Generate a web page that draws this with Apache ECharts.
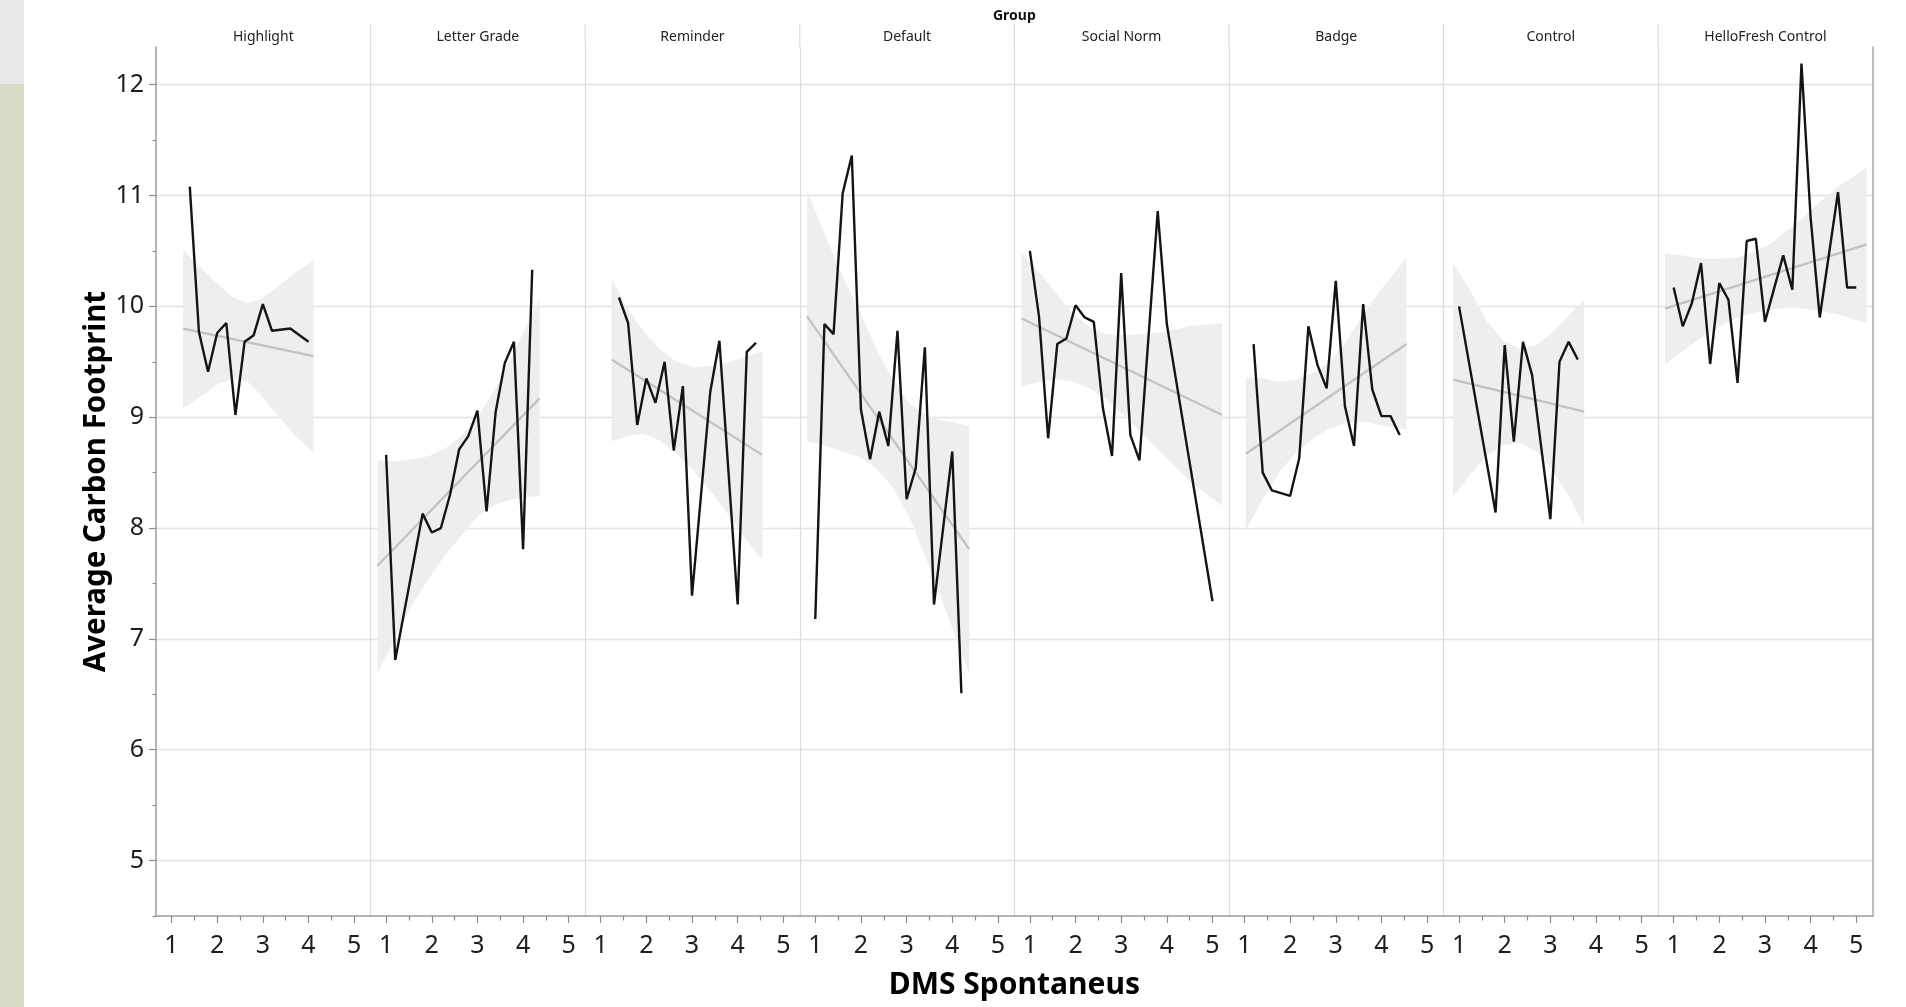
<!DOCTYPE html>
<html>
<head>
<meta charset="utf-8">
<script src="https://cdn.jsdelivr.net/npm/echarts@6/dist/echarts.min.js"></script>
<style>
  html, body { margin: 0; padding: 0; background: #ffffff; }
  #chart { width: 1906px; height: 1007px; }
</style>
</head>
<body>
<div id="chart"></div>
<script>
// Facet groups (one panel each, left to right)
const groups = ['Highlight', 'Letter Grade', 'Reminder', 'Default', 'Social Norm', 'Badge', 'Control', 'HelloFresh Control'];

// Axis ticks
const dmsTicks = [1, 2, 3, 4, 5];
const dmsMinorTicks = [1.5, 2.5, 3.5, 4.5];
const carbonTicks = [5, 6, 7, 8, 9, 10, 11, 12];
const carbonMinorTicks = [4.5, 5.5, 6.5, 7.5, 8.5, 9.5, 10.5, 11.5];

// Mean carbon footprint per DMS Spontaneus score: [dms, carbon]
const highlightPoints = [[1.4, 11.08], [1.6, 9.77], [1.8, 9.41], [2.0, 9.76], [2.2, 9.85], [2.4, 9.02], [2.6, 9.68], [2.8, 9.74], [3.0, 10.02], [3.2, 9.78], [3.6, 9.80], [4.0, 9.68]];
const letterGradePoints = [[1.0, 8.66], [1.2, 6.81], [1.8, 8.13], [2.0, 7.96], [2.2, 8.00], [2.4, 8.30], [2.6, 8.71], [2.8, 8.83], [3.0, 9.06], [3.2, 8.15], [3.4, 9.05], [3.6, 9.49], [3.8, 9.68], [4.0, 7.81], [4.2, 10.33]];
const reminderPoints = [[1.4, 10.08], [1.6, 9.85], [1.8, 8.93], [2.0, 9.35], [2.2, 9.13], [2.4, 9.50], [2.6, 8.70], [2.8, 9.28], [3.0, 7.39], [3.4, 9.23], [3.6, 9.69], [4.0, 7.31], [4.2, 9.59], [4.4, 9.67]];
const defaultPoints = [[1.0, 7.18], [1.2, 9.84], [1.4, 9.75], [1.6, 11.02], [1.8, 11.36], [2.0, 9.07], [2.2, 8.62], [2.4, 9.05], [2.6, 8.74], [2.8, 9.78], [3.0, 8.26], [3.2, 8.54], [3.4, 9.63], [3.6, 7.31], [4.0, 8.69], [4.2, 6.51]];
const socialNormPoints = [[1.0, 10.50], [1.2, 9.91], [1.4, 8.81], [1.6, 9.66], [1.8, 9.71], [2.0, 10.01], [2.2, 9.90], [2.4, 9.86], [2.6, 9.08], [2.8, 8.65], [3.0, 10.30], [3.2, 8.84], [3.4, 8.61], [3.8, 10.86], [4.0, 9.84], [5.0, 7.34]];
const badgePoints = [[1.2, 9.66], [1.4, 8.50], [1.6, 8.34], [2.0, 8.29], [2.2, 8.63], [2.4, 9.82], [2.6, 9.47], [2.8, 9.26], [3.0, 10.23], [3.2, 9.10], [3.4, 8.74], [3.6, 10.02], [3.8, 9.25], [4.0, 9.01], [4.2, 9.01], [4.4, 8.84]];
const controlPoints = [[1.0, 10.00], [1.8, 8.14], [2.0, 9.65], [2.2, 8.78], [2.4, 9.68], [2.6, 9.38], [3.0, 8.08], [3.2, 9.50], [3.4, 9.68], [3.6, 9.52]];
const helloFreshPoints = [[1.0, 10.17], [1.2, 9.82], [1.4, 10.03], [1.6, 10.39], [1.8, 9.48], [2.0, 10.21], [2.2, 10.06], [2.4, 9.31], [2.6, 10.59], [2.8, 10.61], [3.0, 9.86], [3.4, 10.46], [3.6, 10.15], [3.8, 12.19], [4.0, 10.80], [4.2, 9.90], [4.6, 11.03], [4.8, 10.17], [5.0, 10.17]];

// Linear fit end points: [dms, carbon]
const highlightFit = [[1.25, 9.80], [4.11, 9.55]];
const letterGradeFit = [[0.81, 7.66], [4.36, 9.17]];
const reminderFit = [[1.24, 9.52], [4.54, 8.66]];
const defaultFit = [[0.82, 9.91], [4.37, 7.81]];
const socialNormFit = [[0.82, 9.89], [5.21, 9.02]];
const badgeFit = [[1.03, 8.67], [4.55, 9.66]];
const controlFit = [[0.87, 9.34], [3.74, 9.05]];
const helloFreshFit = [[0.81, 9.98], [5.23, 10.56]];

// Confidence band of the fit: dms positions, upper and lower carbon bounds
const highlightBandX = [1.25, 1.62, 1.99, 2.35, 2.65, 2.94, 3.30, 3.67, 4.11];
const highlightBandHi = [10.51, 10.36, 10.21, 10.08, 10.03, 10.06, 10.17, 10.29, 10.42];
const highlightBandLo = [9.08, 9.18, 9.29, 9.35, 9.33, 9.21, 9.03, 8.85, 8.68];

const letterGradeBandX = [0.81, 1.21, 1.57, 1.94, 2.30, 2.67, 3.03, 3.40, 3.76, 4.13, 4.36];
const letterGradeBandHi = [8.61, 8.60, 8.62, 8.65, 8.72, 8.84, 9.02, 9.26, 9.56, 9.87, 10.07];
const letterGradeBandLo = [6.69, 7.01, 7.31, 7.55, 7.76, 7.94, 8.12, 8.21, 8.26, 8.28, 8.29];

const reminderBandX = [1.24, 1.57, 1.93, 2.30, 2.66, 3.03, 3.39, 3.76, 4.12, 4.54];
const reminderBandHi = [10.25, 9.99, 9.78, 9.61, 9.50, 9.45, 9.46, 9.49, 9.54, 9.59];
const reminderBandLo = [8.78, 8.83, 8.85, 8.79, 8.67, 8.52, 8.34, 8.14, 7.93, 7.71];

const defaultBandX = [0.82, 1.25, 1.61, 1.98, 2.34, 2.71, 3.07, 3.44, 3.80, 4.37];
const defaultBandHi = [11.04, 10.61, 10.26, 9.95, 9.61, 9.33, 9.12, 9.02, 8.97, 8.92];
const defaultBandLo = [8.78, 8.74, 8.69, 8.64, 8.54, 8.36, 8.09, 7.71, 7.32, 6.69];

const socialNormBandX = [0.82, 1.22, 1.59, 1.95, 2.32, 2.68, 3.05, 3.41, 3.78, 4.14, 4.51, 5.21];
const socialNormBandHi = [10.48, 10.30, 10.11, 9.93, 9.81, 9.75, 9.74, 9.75, 9.76, 9.79, 9.82, 9.85];
const socialNormBandLo = [9.28, 9.32, 9.34, 9.32, 9.26, 9.16, 9.02, 8.87, 8.72, 8.57, 8.42, 8.20];

const badgeBandX = [1.03, 1.41, 1.78, 2.14, 2.51, 2.87, 3.24, 3.60, 3.97, 4.55];
const badgeBandHi = [9.36, 9.35, 9.32, 9.34, 9.40, 9.50, 9.69, 9.93, 10.14, 10.44];
const badgeBandLo = [7.98, 8.27, 8.51, 8.69, 8.81, 8.90, 8.95, 8.96, 8.93, 8.89];

const controlBandX = [0.87, 1.24, 1.60, 1.97, 2.33, 2.70, 3.06, 3.43, 3.74];
const controlBandHi = [10.39, 10.15, 9.87, 9.69, 9.62, 9.65, 9.77, 9.93, 10.06];
const controlBandLo = [8.28, 8.48, 8.65, 8.75, 8.77, 8.69, 8.51, 8.27, 8.02];

const helloFreshBandX = [0.81, 1.21, 1.65, 2.01, 2.38, 2.74, 3.11, 3.47, 3.84, 4.20, 4.57, 5.23];
const helloFreshBandHi = [10.48, 10.46, 10.43, 10.43, 10.44, 10.49, 10.56, 10.68, 10.80, 10.94, 11.07, 11.25];
const helloFreshBandLo = [9.48, 9.60, 9.73, 9.82, 9.90, 9.94, 9.97, 9.99, 9.98, 9.96, 9.93, 9.85];

const panels = [
  { points: highlightPoints, fit: highlightFit, bandX: highlightBandX, bandHi: highlightBandHi, bandLo: highlightBandLo },
  { points: letterGradePoints, fit: letterGradeFit, bandX: letterGradeBandX, bandHi: letterGradeBandHi, bandLo: letterGradeBandLo },
  { points: reminderPoints, fit: reminderFit, bandX: reminderBandX, bandHi: reminderBandHi, bandLo: reminderBandLo },
  { points: defaultPoints, fit: defaultFit, bandX: defaultBandX, bandHi: defaultBandHi, bandLo: defaultBandLo },
  { points: socialNormPoints, fit: socialNormFit, bandX: socialNormBandX, bandHi: socialNormBandHi, bandLo: socialNormBandLo },
  { points: badgePoints, fit: badgeFit, bandX: badgeBandX, bandHi: badgeBandHi, bandLo: badgeBandLo },
  { points: controlPoints, fit: controlFit, bandX: controlBandX, bandHi: controlBandHi, bandLo: controlBandLo },
  { points: helloFreshPoints, fit: helloFreshFit, bandX: helloFreshBandX, bandHi: helloFreshBandHi, bandLo: helloFreshBandLo }
];

// Layout
const PLOT_LEFT = 156, PLOT_TOP = 47, PLOT_BOTTOM = 916, PLOT_WIDTH = 1716.7;
const PANEL_W = PLOT_WIDTH / groups.length;
const PLOT_H = PLOT_BOTTOM - PLOT_TOP;
const X_MIN = 0.66, X_MAX = 5.36;
const Y_MIN = 4.5, Y_MAX = 12.34;
const FONT = "'Noto Sans', 'Open Sans', sans-serif";
const AXIS_GREY = '#9c9c9c';
const GRID_GREY = '#e2e2e2';

// Band drawn as one filled shape: upper bound left to right, then lower bound back
function bandRenderer(panel) {
  return function (params, api) {
    if (params.dataIndex !== 0) return null;
    const upper = panel.bandX.map((x, i) => api.coord([x, panel.bandHi[i]]));
    const lower = panel.bandX.map((x, i) => api.coord([x, panel.bandLo[i]])).reverse();
    return {
      type: 'polygon',
      shape: { points: upper.concat(lower) },
      style: { fill: '#eeeeee', stroke: null },
      silent: true
    };
  };
}

const grid = [], xAxis = [], yAxis = [], series = [], graphic = [];

groups.forEach((name, k) => {
  grid.push({ left: PLOT_LEFT + k * PANEL_W, top: PLOT_TOP, width: PANEL_W, height: PLOT_H });

  // bottom axis: major ticks + labels
  xAxis.push({
    type: 'value', gridIndex: k, position: 'bottom', min: X_MIN, max: X_MAX,
    axisLine: { show: true, onZero: false, lineStyle: { color: AXIS_GREY, width: 1.5 } },
    axisTick: { show: true, customValues: dmsTicks, length: 7, lineStyle: { color: '#8a8a8a', width: 1.2 } },
    axisLabel: { show: true, customValues: dmsTicks, fontSize: 25, color: '#1e1e1e', margin: 17, fontFamily: FONT },
    splitLine: { show: false }
  });
  // bottom axis: half-step ticks
  xAxis.push({
    type: 'value', gridIndex: k, position: 'bottom', min: X_MIN, max: X_MAX,
    axisLine: { show: false, onZero: false },
    axisTick: { show: true, customValues: dmsMinorTicks, length: 4.5, lineStyle: { color: '#8a8a8a', width: 1.2 } },
    axisLabel: { show: false },
    splitLine: { show: false }
  });
  // top axis: panel title
  xAxis.push({
    type: 'value', gridIndex: k, position: 'top', min: X_MIN, max: X_MAX,
    axisLine: { show: false, onZero: false }, axisTick: { show: false }, axisLabel: { show: false }, splitLine: { show: false },
    name: name, nameLocation: 'middle', nameGap: 2.5,
    nameTextStyle: { fontSize: 14, color: '#222', fontFamily: FONT }
  });

  // panel value axis: horizontal grid lines at whole numbers, separator line on the left
  yAxis.push({
    type: 'value', gridIndex: k, min: Y_MIN, max: Y_MAX, interval: 0.5,
    axisLine: { show: k > 0, onZero: false, lineStyle: { color: '#dcdcdc', width: 1.2 } },
    axisTick: { show: false }, axisLabel: { show: false },
    splitLine: { show: true, lineStyle: { color: ['rgba(0,0,0,0)', GRID_GREY], width: 1.3 } }
  });

  const p = panels[k];
  const xi = 3 * k;
  series.push({
    type: 'custom', xAxisIndex: xi, yAxisIndex: k, silent: true, z: 1,
    renderItem: bandRenderer(p),
    encode: { x: 0, y: [1, 2] },
    data: p.bandX.map((x, i) => [x, p.bandHi[i], p.bandLo[i]])
  });
  series.push({
    type: 'line', xAxisIndex: xi, yAxisIndex: k, symbol: 'none', silent: true,
    lineStyle: { color: '#c2c2c2', width: 2.3 }, data: p.fit, z: 2
  });
  series.push({
    type: 'line', xAxisIndex: xi, yAxisIndex: k, symbol: 'none', silent: true,
    lineStyle: { color: '#141414', width: 2.4 }, data: p.points, z: 3
  });

  if (k > 0) {
    graphic.push({
      type: 'line', silent: true,
      shape: { x1: PLOT_LEFT + k * PANEL_W, y1: 24, x2: PLOT_LEFT + k * PANEL_W, y2: PLOT_TOP },
      style: { stroke: '#dcdcdc', lineWidth: 1.2 }
    });
  }
});

// whole-plot grid carrying the shared value axis and titles
const G = groups.length;
grid.push({ left: PLOT_LEFT, top: PLOT_TOP, width: PLOT_WIDTH, height: PLOT_H });
xAxis.push({
  type: 'value', gridIndex: G, position: 'bottom', min: 0, max: 1,
  axisLine: { show: false, onZero: false }, axisTick: { show: false }, axisLabel: { show: false }, splitLine: { show: false },
  name: 'DMS Spontaneus', nameLocation: 'middle', nameGap: 54,
  nameTextStyle: { fontSize: 30, fontWeight: 'bold', color: '#000', fontFamily: FONT }
});
xAxis.push({
  type: 'value', gridIndex: G, position: 'top', min: 0, max: 1,
  axisLine: { show: false, onZero: false }, axisTick: { show: false }, axisLabel: { show: false }, splitLine: { show: false },
  name: 'Group', nameLocation: 'middle', nameGap: 24,
  nameTextStyle: { fontSize: 14, fontWeight: 'bold', color: '#111', fontFamily: FONT }
});
yAxis.push({
  type: 'value', gridIndex: G, position: 'left', min: Y_MIN, max: Y_MAX,
  axisLine: { show: true, onZero: false, lineStyle: { color: AXIS_GREY, width: 1.5 } },
  axisTick: { show: true, customValues: carbonTicks, length: 7, lineStyle: { color: '#8a8a8a', width: 1.2 } },
  axisLabel: { show: true, customValues: carbonTicks, fontSize: 25, color: '#1e1e1e', margin: 12, fontFamily: FONT },
  splitLine: { show: false },
  name: 'Average Carbon Footprint', nameLocation: 'middle', nameGap: 44, nameMoveOverlap: false,
  nameTextStyle: { fontSize: 29.5, fontWeight: 'bold', color: '#000', fontFamily: FONT }
});
yAxis.push({
  type: 'value', gridIndex: G, position: 'left', min: Y_MIN, max: Y_MAX,
  axisLine: { show: false, onZero: false },
  axisTick: { show: true, customValues: carbonMinorTicks, length: 3.5, lineStyle: { color: '#8a8a8a', width: 1.2 } },
  axisLabel: { show: false }, splitLine: { show: false }
});
yAxis.push({
  type: 'value', gridIndex: G, position: 'right', min: Y_MIN, max: Y_MAX,
  axisLine: { show: true, onZero: false, lineStyle: { color: '#a8a8a8', width: 1.5 } },
  axisTick: { show: false }, axisLabel: { show: false }, splitLine: { show: false }
});

// textured strip along the left page edge
graphic.push({ type: 'rect', silent: true, z: -10, shape: { x: 0, y: 0, width: 24, height: 1007 }, style: { fill: '#d9dac8' } });
graphic.push({ type: 'rect', silent: true, z: -9, shape: { x: 0, y: 0, width: 24, height: 84 }, style: { fill: '#e8e8e6' } });

const chart = echarts.init(document.getElementById('chart'), null, { renderer: 'canvas' });
chart.setOption({
  backgroundColor: '#ffffff',
  animation: false,
  textStyle: { fontFamily: FONT },
  grid: grid,
  xAxis: xAxis,
  yAxis: yAxis,
  series: series,
  graphic: graphic
});
</script>
</body>
</html>
